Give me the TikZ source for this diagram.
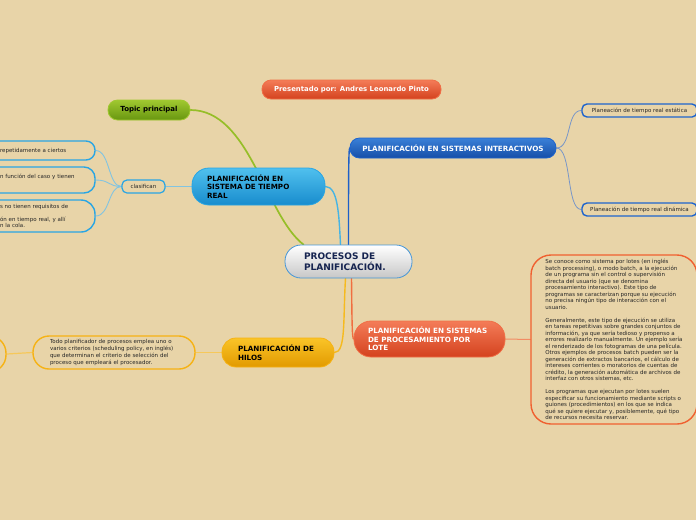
\documentclass[tikz,border=0pt]{standalone}
\usepackage{fontspec}
\setmainfont{DejaVu Sans}
\usetikzlibrary{calc}
\definecolor{bgc}{RGB}{232,212,168}
\definecolor{navy}{RGB}{22,36,80}
\definecolor{cbord}{RGB}{70,150,215}
\definecolor{redtop}{RGB}{244,124,88}
\definecolor{redbot}{RGB}{212,66,30}
\definecolor{redbord}{RGB}{240,110,70}
\definecolor{grtop}{RGB}{160,200,48}
\definecolor{grbot}{RGB}{104,150,16}
\definecolor{cytop}{RGB}{80,192,238}
\definecolor{cybot}{RGB}{24,140,205}
\definecolor{cybord}{RGB}{40,165,228}
\definecolor{bltop}{RGB}{58,128,216}
\definecolor{blbot}{RGB}{22,78,168}
\definecolor{blbord}{RGB}{30,100,205}
\definecolor{yetop}{RGB}{250,196,40}
\definecolor{yebot}{RGB}{226,154,0}
\definecolor{yebord}{RGB}{246,178,20}
\definecolor{orbord}{RGB}{240,96,48}
\definecolor{gline}{RGB}{150,190,40}
\definecolor{cline}{RGB}{70,180,228}
\definecolor{cline2}{RGB}{130,196,225}
\definecolor{bline}{RGB}{30,96,200}
\definecolor{bline2}{RGB}{120,150,200}
\definecolor{oline}{RGB}{240,110,64}
\definecolor{oline2}{RGB}{242,140,100}
\definecolor{yline}{RGB}{246,186,30}
\definecolor{yline2}{RGB}{246,200,90}
\pgfdeclarelayer{bglayer}
\pgfdeclarelayer{edgelayer}
\pgfsetlayers{bglayer,edgelayer,main}
\begin{document}
\begin{tikzpicture}[x=1pt,y=-1pt,
  filled/.style={draw=#1, line width=0.8pt, inner ysep=0pt},
  tanbox/.style={draw=#1, fill=bgc, line width=1.4pt, inner ysep=0pt},
  bigtxt/.style={font=\bfseries\fontsize{7.2}{8.5}\selectfont},
  smalltxt/.style={font=\fontsize{5.5}{6.5}\selectfont, text=black!85},
  edge/.style={line width=#1, line cap=round}
]
\begin{pgfonlayer}{bglayer}
\fill[bgc] (0,0) rectangle (696,520);
\end{pgfonlayer}
\useasboundingbox (0,0) rectangle (696,520);

% central
\node[filled=cbord, top color=white, bottom color=black!22!white, rounded corners=16pt,
  minimum width=127pt, minimum height=33pt, inner xsep=19pt, text width=89pt, align=left,
  font=\bfseries\fontsize{9}{11.5}\selectfont, text=navy] (c) at (348.5,261.5) {PROCESOS DE\\PLANIFICACIÓN.};

\node[filled=redbord, top color=redtop, bottom color=redbot, rounded corners=9pt,
  minimum width=179pt, minimum height=19pt, text=white, font=\bfseries\fontsize{6.9}{8.5}\selectfont] (pr) at (351.5,89.5)
  {Presentado por: Andres Leonardo Pinto};

\node[filled=grtop, top color=grtop, bottom color=grbot, rounded corners=9.5pt,
  minimum width=82pt, minimum height=20pt, text=black, font=\bfseries\fontsize{7}{8}\selectfont] (t) at (149,110)
  {Topic principal};

\node[filled=cybord, top color=cytop, bottom color=cybot, rounded corners=17pt,
  minimum width=133pt, minimum height=37pt, inner xsep=15pt, text width=103pt, align=left,
  text=black, bigtxt] (tr) at (258.5,186.5) {PLANIFICACIÓN EN\\SISTEMA DE TIEMPO\\REAL};

\node[tanbox=cybord, rounded corners=5pt, line width=1.2pt, minimum width=43pt, minimum height=13pt,
  smalltxt] (cl) at (143.5,186.5) {clasifican};

\node[tanbox=cybord, rounded corners=9pt, minimum width=112pt, minimum height=19pt,
  inner xsep=17pt, text width=78pt, align=left, smalltxt] (ba) at (39,150.5) {repetidamente a ciertos};
\node[tanbox=cybord, rounded corners=11pt, minimum width=112pt, minimum height=26pt,
  inner xsep=17pt, text width=78pt, align=left, smalltxt] (bb) at (39,180) {n función del caso y tienen\\\mbox{}};
\node[tanbox=cybord, rounded corners=14pt, minimum width=112pt, minimum height=32pt,
  inner xsep=17pt, text width=78pt, align=left, smalltxt] (bc) at (39,216) {s no tienen requisitos de\\\mbox{}\\ón en tiempo real, y allí\\n la cola.};

\node[filled=blbord, top color=bltop, bottom color=blbot, rounded corners=9.5pt,
  minimum width=206pt, minimum height=20pt, text=white, bigtxt] (si) at (453,148)
  {PLANIFICACIÓN EN SISTEMAS INTERACTIVOS};

\node[tanbox=blbord, rounded corners=5pt, minimum width=115pt, minimum height=13pt, smalltxt] (est) at (639.5,110.5)
  {Planeación de tiempo real estática};
\node[tanbox=blbord, rounded corners=5pt, minimum width=115pt, minimum height=13pt, smalltxt] (din) at (639.5,209.5)
  {Planeación de tiempo real dinámica};

\node[filled=redbord, top color=redtop, bottom color=redbot, rounded corners=17pt,
  minimum width=151pt, minimum height=36pt, inner xsep=14pt, text width=123pt, align=left,
  text=white, bigtxt] (lo) at (429.5,339) {PLANIFICACIÓN EN SISTEMAS\\DE PROCESAMIENTO POR\\LOTE};

\node[tanbox=orbord, rounded corners=20pt, minimum width=166pt, minimum height=169pt,
  inner xsep=14pt, align=left, smalltxt] (big) at (614,339.5)
  {Se conoce como sistema por lotes (en inglés\\
batch processing), o modo batch, a la ejecución\\
de un programa sin el control o supervisión\\
directa del usuario (que se denomina\\
procesamiento interactivo). Este tipo de\\
programas se caracterizan porque su ejecución\\
no precisa ningún tipo de interacción con el\\
usuario.\\
\mbox{}\\
Generalmente, este tipo de ejecución se utiliza\\
en tareas repetitivas sobre grandes conjuntos de\\
información, ya que sería tedioso y propenso a\\
errores realizarlo manualmente. Un ejemplo sería\\
el renderizado de los fotogramas de una película.\\
Otros ejemplos de procesos batch pueden ser la\\
generación de extractos bancarios, el cálculo de\\
intereses corrientes o moratorios de cuentas de\\
crédito, la generación automática de archivos de\\
interfaz con otros sistemas, etc.\\
\mbox{}\\
Los programas que ejecutan por lotes suelen\\
especificar su funcionamiento mediante scripts o\\
guiones (procedimientos) en los que se indica\\
qué se quiere ejecutar y, posiblemente, qué tipo\\
de recursos necesita reservar.};

\node[filled=yebord, top color=yetop, bottom color=yebot, rounded corners=14pt,
  minimum width=112pt, minimum height=29pt, inner xsep=16pt, text width=80pt, align=left,
  text=black, bigtxt] (hi) at (278,352.5) {PLANIFICACIÓN DE\\HILOS};

\node[tanbox=yebord, rounded corners=16pt, minimum width=162pt, minimum height=33pt,
  inner xsep=17pt, text width=128pt, align=left, font=\fontsize{5.5}{7}\selectfont, text=black!85] (todo) at (114,352.5)
  {Todo planificador de procesos emplea uno o\\varios criterios (scheduling policy, en inglés)\\que determinan el criterio de selección del\\proceso que empleará el procesador.};

\node[tanbox=yebord, rounded corners=17pt, minimum width=60pt, minimum height=36pt] (lh) at (-24,354) {};

\begin{pgfonlayer}{edgelayer}
\draw[edge=1.7pt, gline] (t.east) .. controls (250,110) and (265,215) .. ([xshift=-45pt]c.north);
\draw[edge=1.4pt, cline] (tr.east) .. controls (338,186.5) and (339,215) .. ([xshift=-8pt]c.north);
\draw[edge=1.4pt, bline] (c.north) .. controls (348.5,190) and (348.5,150) .. (si.west);
\draw[edge=1.4pt, oline] ([xshift=3pt]c.south) .. controls (352,320) and (352,338) .. (lo.west);
\draw[edge=1.4pt, yline] ([xshift=-3pt]c.south) .. controls (343,320) and (346,352.5) .. (hi.east);
\draw[edge=1pt, cline2] (tr.west) -- (cl.east);
\draw[edge=0.9pt, cline2] (cl.west) .. controls (108,186.5) and (110,150.5) .. (ba.east);
\draw[edge=0.9pt, cline2] (cl.west) .. controls (108,186.5) and (110,180) .. (bb.east);
\draw[edge=0.9pt, cline2] (cl.west) .. controls (108,186.5) and (110,216) .. (bc.east);
\draw[edge=0.8pt, bline2] (si.east) .. controls (572,148) and (566,110.5) .. (est.west);
\draw[edge=0.8pt, bline2] (si.east) .. controls (572,148) and (566,209.5) .. (din.west);
\draw[edge=1pt, oline2] (lo.east) -- (big.west);
\draw[edge=1.2pt, yline2] (hi.west) -- (todo.east);
\draw[edge=1.2pt, yline2] (todo.west) -- (lh.east);
\end{pgfonlayer}
\end{tikzpicture}
\end{document}
